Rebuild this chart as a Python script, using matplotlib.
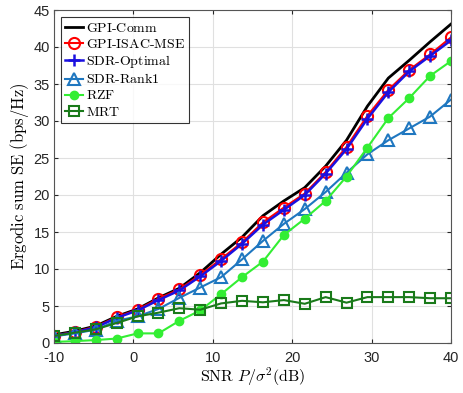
import numpy as np
import matplotlib
matplotlib.use("Agg")
import matplotlib.pyplot as plt

plt.rcParams['mathtext.fontset'] = 'cm'
plt.rcParams['font.family'] = ['Liberation Sans', 'DejaVu Sans']
plt.rcParams['axes.unicode_minus'] = False

snr = [-10, -7.37, -4.74, -2.11, 0.53, 3.16, 5.79, 8.42, 11.05, 13.68,
       16.32, 18.95, 21.58, 24.21, 26.84, 29.47, 32.11, 34.74, 37.37, 40]

gpi_comm = [1.1, 1.6, 2.3, 3.6, 4.6, 6.1, 7.4, 9.5, 12.0, 14.3,
            17.2, 19.2, 21.0, 23.9, 27.4, 32.0, 35.8, 38.2, 40.7, 43.1]
gpi_isac = [1.0, 1.5, 2.2, 3.5, 4.5, 6.0, 7.25, 9.2, 11.35, 13.6,
            16.3, 18.3, 20.2, 23.1, 26.5, 30.7, 34.2, 36.9, 39.0, 41.3]
sdr_opt = [0.95, 1.45, 2.1, 3.4, 4.4, 5.8, 7.1, 9.0, 11.1, 13.4,
           16.0, 18.0, 20.0, 22.9, 26.2, 30.3, 33.9, 36.7, 38.8, 40.9]
sdr_rank1 = [0.9, 1.3, 1.8, 3.0, 3.6, 4.6, 6.1, 7.5, 8.9, 11.3,
             13.8, 16.1, 18.1, 20.4, 23.0, 25.5, 27.4, 29.0, 30.6, 32.9]
rzf = [0.15, 0.25, 0.4, 0.6, 1.3, 1.3, 3.0, 4.4, 6.6, 8.9,
       11.0, 14.6, 16.8, 19.2, 22.5, 26.4, 30.4, 33.1, 36.1, 38.1]
mrt = [0.95, 1.4, 1.85, 2.7, 3.6, 4.1, 4.7, 4.5, 5.35, 5.7,
       5.5, 5.8, 5.3, 6.2, 5.45, 6.2, 6.2, 6.2, 6.05, 6.05]

labels = ['GPI-Comm', 'GPI-ISAC-MSE', 'SDR-Optimal', 'SDR-Rank1', 'RZF', 'MRT']
xticks = [-10, 0, 10, 20, 30, 40]
yticks = [0, 5, 10, 15, 20, 25, 30, 35, 40, 45]

fig = plt.figure(figsize=(4.63, 3.93), dpi=100)
ax = fig.add_axes([54/463, 50/393, (451-54)/463, (343-10)/393])

def tl(s):
    return r'$\mathrm{' + s.replace(' ', r'\ ').replace('-', r'\text{-}') + '}$'

ax.plot(snr, gpi_comm, color='black', lw=2.0, label=tl(labels[0]))
ax.plot(snr, gpi_isac, color='red', lw=1.5, marker='o', ms=8, mfc='none',
        mew=1.5, label=tl(labels[1]))
ax.plot(snr, sdr_opt, color='#1a10e0', lw=1.8, marker='+', ms=9, mew=1.8,
        label=tl(labels[2]))
ax.plot(snr, sdr_rank1, color='#1f77c0', lw=1.5, marker='^', ms=8, mfc='none',
        mew=1.5, label=tl(labels[3]))
ax.plot(snr, rzf, color='#33ee33', lw=1.5, marker='o', ms=6,
        label=tl(labels[4]))
ax.plot(snr, mrt, color='#1a7a1a', lw=1.5, marker='s', ms=7, mfc='none',
        mew=1.5, label=tl(labels[5]))

ax.set_xlim(-10, 40)
ax.set_ylim(0, 45)
ax.set_xticks(xticks)
ax.set_yticks(yticks)
ax.tick_params(direction='in', top=True, right=True, labelsize=10.5,
               colors='#262626', length=3)
ax.tick_params(axis='x', pad=6)
ax.tick_params(axis='y', pad=3)
ax.grid(True, color='#e0e0e0', lw=0.8)
ax.set_axisbelow(True)
for s in ax.spines.values():
    s.set_color('#555555')
    s.set_linewidth(0.8)

ax.set_xlabel(r'$\mathrm{SNR}\ P/\sigma^2\mathrm{(dB)}$', fontsize=11.5, labelpad=0)
ax.set_ylabel(r'$\mathrm{Ergodic\ sum\ SE\ (bps/Hz)}$', fontsize=12, labelpad=2)

leg = ax.legend(loc='upper left', fontsize=10, frameon=True, fancybox=False,
                edgecolor='black', handlelength=1.3, handletextpad=0.2,
                borderpad=0.3, labelspacing=0.15, borderaxespad=0.5)
leg.get_frame().set_linewidth(0.8)

fig.savefig('out.png', dpi=100)
